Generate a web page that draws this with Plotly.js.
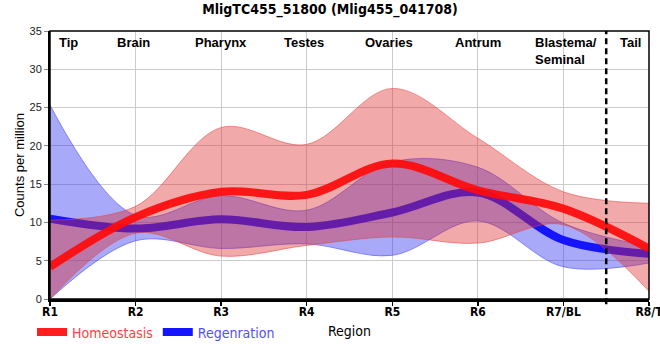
<!DOCTYPE html>
<html>
<head>
<meta charset="utf-8">
<script src="https://cdn.plot.ly/plotly-3.0.1.min.js"></script>
<style>
html,body{margin:0;padding:0;background:#fff;}
#chart{width:660px;height:360px;}
</style>
</head>
<body>
<div id="chart"></div>
<script>
// Data
const categories = ['R1', 'R2', 'R3', 'R4', 'R5', 'R6', 'R7/BL', 'R8/T'];
const homeostasis     = [4.2, 10.7, 14.0, 13.6, 17.7, 14.2, 11.8, 6.6];
const homeostasisHigh = [10.3, 12.1, 22.4, 20.2, 27.5, 21.0, 14.0, 12.5];
const homeostasisLow  = [0.0, 8.6, 5.6, 7.0, 8.1, 7.3, 9.7, 1.0];
const regeneration     = [10.5, 9.2, 10.4, 9.4, 11.3, 13.9, 7.7, 5.9];
const regenerationHigh = [25.3, 10.9, 13.5, 11.6, 17.9, 17.2, 9.9, 6.9];
const regenerationLow  = [0.0, 7.6, 6.6, 7.2, 5.7, 10.2, 4.2, 4.7];
const regionLabels = ['Tip', 'Brain', 'Pharynx', 'Testes', 'Ovaries', 'Antrum', 'Blastema/<br>Seminal', 'Tail'];
const regionPositions = [0.22, 0.97, 2.0, 2.97, 3.96, 5.0, 5.65, 6.78];
const regionBoundary = 6.5;

const xIdx = categories.map((c, i) => i);
const narrow = 'Liberation Sans Narrow, Arial Narrow, DejaVu Sans Condensed, sans-serif';
const sans = 'Liberation Sans, Arial, sans-serif';

const spline = {shape: 'spline', smoothing: 1};

const traces = [
  {x: xIdx, y: regenerationLow, mode: 'lines', line: Object.assign({color: 'rgba(60,60,240,0.55)', width: 1}, spline), showlegend: false, hoverinfo: 'skip'},
  {x: xIdx, y: regenerationHigh, mode: 'lines', fill: 'tonexty', fillcolor: 'rgba(40,40,240,0.4)', line: Object.assign({color: 'rgba(60,60,240,0.55)', width: 1}, spline), showlegend: false, hoverinfo: 'skip'},
  {x: xIdx, y: regeneration, mode: 'lines', name: '<span style="color:#5050ff">Regenration</span>', line: Object.assign({color: '#1414ff', width: 8}, spline), legendrank: 2},
  {x: xIdx, y: homeostasisLow, mode: 'lines', line: Object.assign({color: 'rgba(230,70,70,0.55)', width: 1}, spline), showlegend: false, hoverinfo: 'skip'},
  {x: xIdx, y: homeostasisHigh, mode: 'lines', fill: 'tonexty', fillcolor: 'rgba(220,40,40,0.4)', line: Object.assign({color: 'rgba(230,70,70,0.55)', width: 1}, spline), showlegend: false, hoverinfo: 'skip'},
  {x: xIdx, y: homeostasis, mode: 'lines', name: '<span style="color:#ff4040">Homeostasis</span>', line: Object.assign({color: 'rgba(255,10,10,0.92)', width: 8}, spline), legendrank: 1}
];

const annotations = regionLabels.map((t, i) => ({
  x: regionPositions[i], y: 35, xref: 'x', yref: 'y',
  text: '<b>' + t + '</b>', showarrow: false,
  xanchor: i === 6 ? 'left' : 'center', yanchor: 'top', align: 'left',
  yshift: -2,
  font: {family: sans, size: 13, color: '#000'}
}));

const layout = {
  width: 660, height: 360,
  margin: {l: 50, r: 11, t: 31, b: 61},
  paper_bgcolor: '#fff', plot_bgcolor: '#fff',
  title: {text: '<b>MligTC455_51800 (Mlig455_041708)</b>', x: 0.5, xanchor: 'center', y: 0.975, yanchor: 'middle',
          font: {family: narrow, size: 14, color: '#000'}},
  xaxis: {
    range: [0, 7], tickvals: xIdx, ticktext: categories.map(c => '<b>' + c + '</b>'),
    showgrid: true, gridcolor: '#cccccc', gridwidth: 1,
    showline: true, linecolor: '#000', linewidth: 3,
    ticks: 'outside', ticklen: 4, tickwidth: 1.5, tickcolor: '#000',
    ticklabeloverflow: 'allow', ticklabelstandoff: -4,
    tickfont: {family: narrow, size: 12, color: '#000'},
    zeroline: false, fixedrange: true,
    title: {text: 'Region', standoff: 8, font: {family: narrow, size: 14, color: '#000'}}
  },
  yaxis: {
    range: [0, 35], dtick: 5, tick0: 0,
    showgrid: true, gridcolor: '#cccccc', gridwidth: 1,
    showline: true, linecolor: '#000', linewidth: 2,
    ticks: 'outside', ticklen: 4, tickcolor: '#888',
    tickfont: {family: sans, size: 11, color: '#222'},
    zeroline: false, fixedrange: true,
    title: {text: 'Counts per million', standoff: 2, font: {family: sans, size: 13, color: '#000'}}
  },
  legend: {orientation: 'h', x: -0.03, xanchor: 'left', y: -0.125, yanchor: 'middle',
           font: {family: narrow, size: 14}, bgcolor: 'rgba(0,0,0,0)', traceorder: 'normal'},
  annotations: annotations,
  shapes: [
    {type: 'rect', xref: 'paper', yref: 'paper', x0: 0, x1: 1, y0: 0, y1: 1, line: {color: '#000', width: 1.5}, layer: 'above'},
    {type: 'line', xref: 'x', yref: 'paper', x0: regionBoundary, x1: regionBoundary, y0: -0.02, y1: 1, line: {color: '#000', width: 2.5, dash: '6px,4px'}, layer: 'above'}
  ],
  showlegend: true
};

Plotly.newPlot('chart', traces, layout, {displayModeBar: false, staticPlot: true});
</script>
</body>
</html>
